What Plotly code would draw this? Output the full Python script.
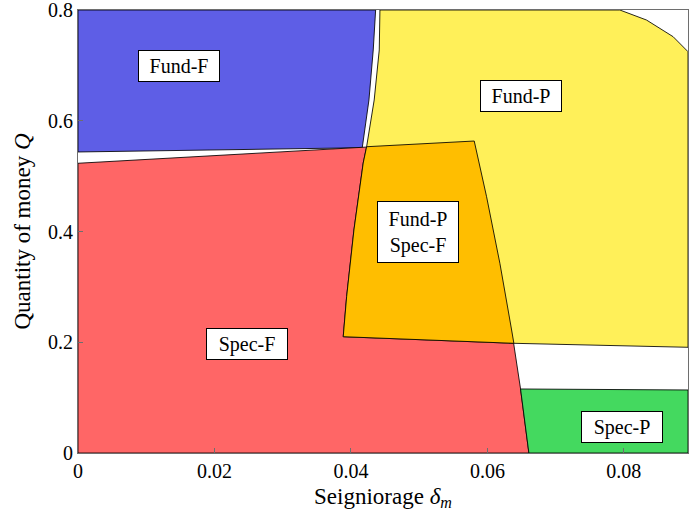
import plotly.graph_objects as go

# Region boundaries in (delta_m, Q) space
fundF_x = [0.0, 0.04362, 0.04327, 0.04264, 0.04166, 0.0]
fundF_y = [0.8, 0.8, 0.7278, 0.6375, 0.5513, 0.5436]

# Spec-F: upper edge is a straight line, right edge a curve
specF_top_x = [0.0, 0.05807]
specF_top_y = [0.5232, 0.5634]
specF_right_x = [0.05807, 0.05988, 0.06183, 0.06355, 0.06388, 0.06486, 0.06608]
specF_right_y = [0.5634, 0.4628, 0.3426, 0.2221, 0.1981, 0.1156, 0.0]

# Fund-P: left edge (top to bottom), bottom edge, clipped top-right corner
fundP_left_x = [0.04425, 0.04415, 0.04341, 0.04230, 0.04180, 0.04044, 0.03937, 0.03887]
fundP_left_y = [0.8, 0.7278, 0.6375, 0.5531, 0.5237, 0.4027, 0.2823, 0.2100]
fundP_bottom_x = [0.03887, 0.06388, 0.0894]
fundP_bottom_y = [0.2100, 0.1981, 0.1909]
fundP_corner_x = [0.0894, 0.08722, 0.08332, 0.07941]
fundP_corner_y = [0.7247, 0.7518, 0.7819, 0.8]

# Spec-P: top edge
specP_top_x = [0.06486, 0.0894]
specP_top_y = [0.1156, 0.1138]

X_MAX = 0.0894
Y_MAX = 0.8

colors = {
    "Fund-F": "#5E5EE6",
    "Spec-F": "#FF6666",
    "Fund-P": "#FFF059",
    "Overlap": "#FFBE00",
    "Spec-P": "#44D95F",
}

labels = ["Fund-F", "Fund-P", "Fund-P<br>Spec-F", "Spec-F", "Spec-P"]
label_x = [0.0148, 0.0649, 0.0498, 0.02484, 0.07978]
label_y = [0.6989, 0.6447, 0.3991, 0.1977, 0.0464]

x_ticks = [0, 0.02, 0.04, 0.06, 0.08]
x_tick_text = ["0", "0.02", "0.04", "0.06", "0.08"]
y_ticks = [0, 0.2, 0.4, 0.6, 0.8]
y_tick_text = ["0", "0.2", "0.4", "0.6", "0.8"]

EDGE = dict(color="rgba(0,0,0,0.85)", width=1)

# Build the polygons from the boundary pieces
specF_x = [0.0] + specF_right_x[::-1] + [specF_top_x[0], 0.0]
specF_y = [0.0] + specF_right_y[::-1] + [specF_top_y[0], 0.0]

fundP_x = (fundP_left_x + fundP_bottom_x[1:] + fundP_corner_x
           + [fundP_left_x[0]])
fundP_y = (fundP_left_y + fundP_bottom_y[1:] + fundP_corner_y
           + [fundP_left_y[0]])

# Overlap of Fund-P and Spec-F
ov_x = fundP_left_x[3:] + [fundP_bottom_x[1]] + specF_right_x[:4][::-1] + [fundP_left_x[3]]
ov_y = fundP_left_y[3:] + [fundP_bottom_y[1]] + specF_right_y[:4][::-1] + [fundP_left_y[3]]

specP_x = specP_top_x + [X_MAX] + [specF_right_x[-1], specF_right_x[-2]]
specP_y = specP_top_y + [0.0] + [specF_right_y[-1], specF_right_y[-2]]

fig = go.Figure()


def add_region(xs, ys, color):
    fig.add_trace(go.Scatter(
        x=xs, y=ys, mode="lines", fill="toself", fillcolor=color,
        line=EDGE, hoverinfo="skip", showlegend=False,
    ))


add_region(fundF_x + [fundF_x[0]], fundF_y + [fundF_y[0]], colors["Fund-F"])
add_region(specF_x, specF_y, colors["Spec-F"])
add_region(fundP_x, fundP_y, colors["Fund-P"])
add_region(ov_x, ov_y, colors["Overlap"])
add_region(specP_x + [specP_x[0]], specP_y + [specP_y[0]], colors["Spec-P"])

FONT = "Liberation Serif"

for txt, lx, ly in zip(labels, label_x, label_y):
    two = "<br>" in txt
    fig.add_annotation(
        x=lx, y=ly, text=txt, showarrow=False,
        font=dict(family=FONT, size=20, color="black"),
        bgcolor="white", bordercolor="black", borderwidth=1,
        width=78, height=58 if two else 28, align="center",
    )

fig.update_layout(
    width=692, height=522,
    margin=dict(l=78, r=4, t=10, b=69),
    paper_bgcolor="white", plot_bgcolor="white",
    font=dict(family=FONT, size=20, color="black"),
)
fig.update_xaxes(
    range=[0, X_MAX], tickvals=x_ticks, ticktext=x_tick_text,
    showgrid=False, zeroline=False, showline=True, mirror=True,
    linecolor="#6e6e6e", linewidth=1, ticks="inside", ticklen=5,
    tickcolor="#6e6e6e", tickfont=dict(family=FONT, size=20),
    automargin=False, ticklabeloverflow="allow",
    title=dict(text="Seigniorage <i>δ</i><sub><i>m</i></sub>",
               font=dict(family=FONT, size=23), standoff=6),
)
fig.update_yaxes(
    range=[0, Y_MAX], tickvals=y_ticks, ticktext=y_tick_text,
    showgrid=False, zeroline=False, showline=True, mirror=True,
    linecolor="#6e6e6e", linewidth=1, ticks="inside", ticklen=5,
    tickcolor="#6e6e6e", tickfont=dict(family=FONT, size=20),
    automargin=False, ticklabeloverflow="allow",
    title=dict(text="Quantity of money <i>Q</i>",
               font=dict(family=FONT, size=23), standoff=10),
)

fig.write_html("out.html")
